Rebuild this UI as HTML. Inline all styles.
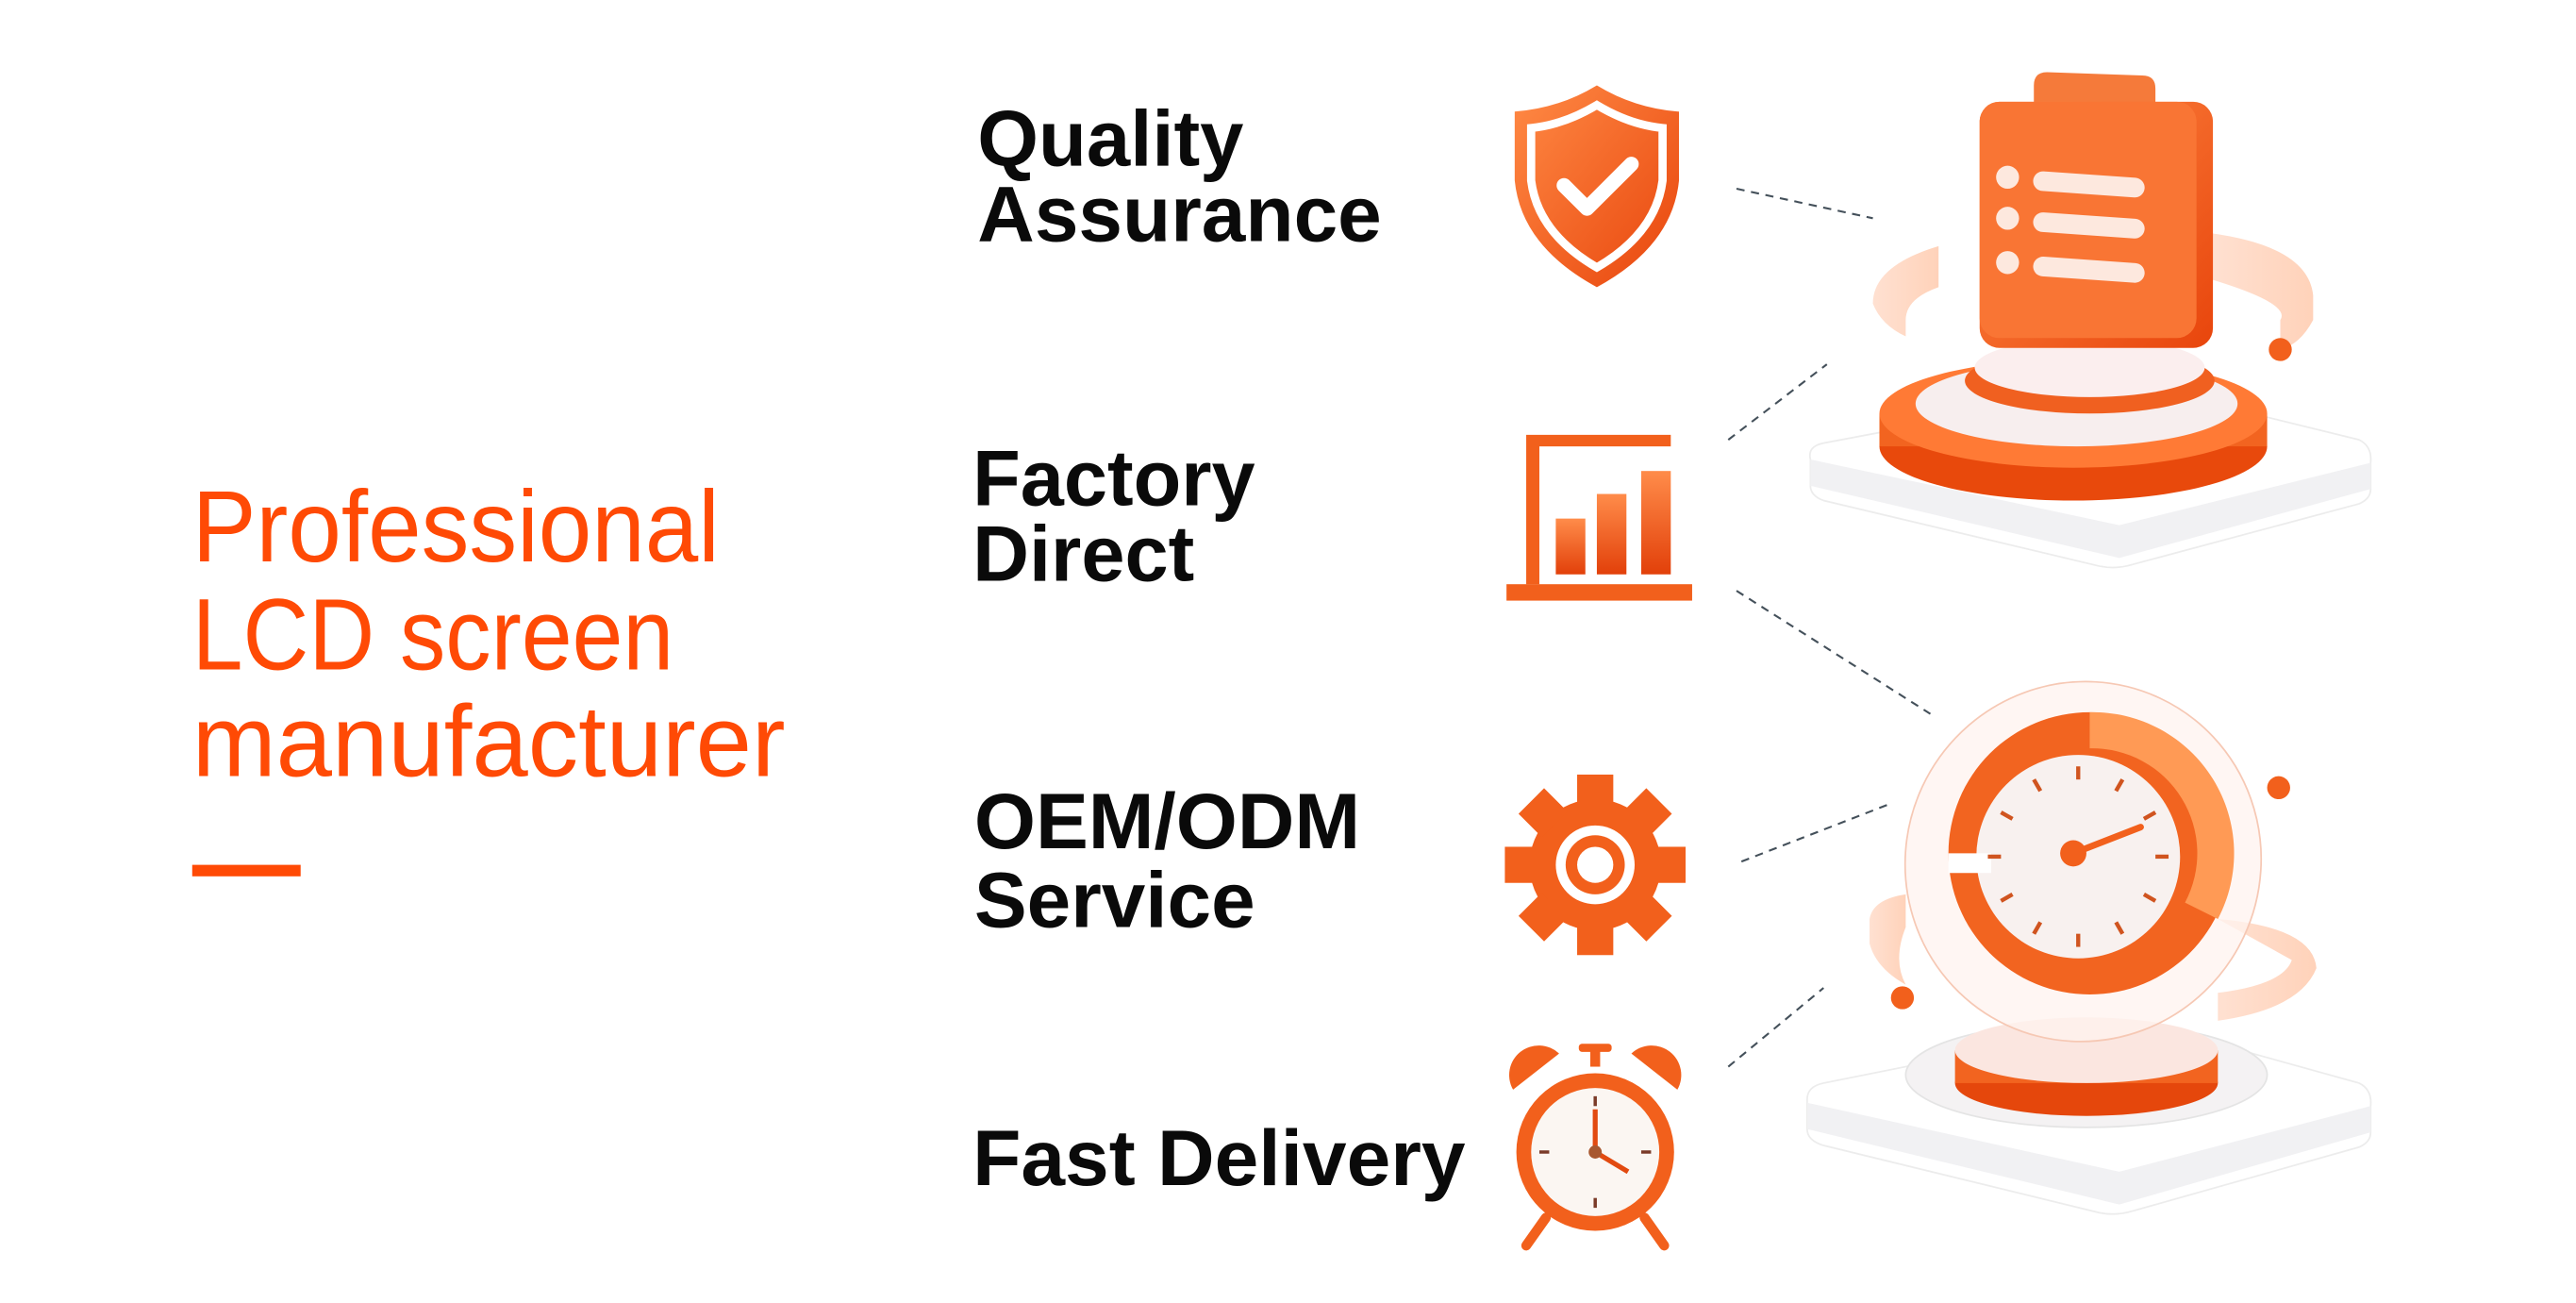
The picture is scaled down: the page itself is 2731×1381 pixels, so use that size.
<!DOCTYPE html>
<html><head><meta charset="utf-8"><style>
html,body{margin:0;padding:0;background:#fff;width:2731px;height:1381px;overflow:hidden}
svg{display:block}
</style></head><body>
<svg width="2731" height="1381" viewBox="0 0 1568 794" preserveAspectRatio="none" xmlns="http://www.w3.org/2000/svg">
<defs>
<linearGradient id="og" x1="0" y1="0" x2="1" y2="1"><stop offset="0" stop-color="#ff8a45"/><stop offset="1" stop-color="#e8450c"/></linearGradient>
<linearGradient id="og2" x1="0" y1="0" x2="0" y2="1"><stop offset="0" stop-color="#ff8c4a"/><stop offset="1" stop-color="#e2400a"/></linearGradient>
<linearGradient id="ring" x1="0" y1="0" x2="1" y2="0"><stop offset="0" stop-color="#ffd9c6" stop-opacity=".8"/><stop offset="1" stop-color="#ffc7a8" stop-opacity=".8"/></linearGradient>
</defs>
<rect width="1568" height="794" fill="#fff"/>
<!-- title -->
<g font-family="Liberation Sans, sans-serif" fill="#ff4a05">
<text x="117" y="342" font-size="62" textLength="321" lengthAdjust="spacingAndGlyphs">Professional</text>
<text x="117" y="408" font-size="62" textLength="293" lengthAdjust="spacingAndGlyphs">LCD screen</text>
<text x="117" y="473" font-size="62" textLength="361" lengthAdjust="spacingAndGlyphs">manufacturer</text>
</g>
<rect x="117" y="527" width="66" height="7" fill="#ff4a05"/>
<!-- labels -->
<g font-family="Liberation Sans, sans-serif" font-weight="bold" font-size="48" fill="#0a0a0a">
<text x="595" y="101" textLength="162" lengthAdjust="spacingAndGlyphs">Quality</text>
<text x="595" y="147" textLength="246" lengthAdjust="spacingAndGlyphs">Assurance</text>
<text x="592" y="308" textLength="172" lengthAdjust="spacingAndGlyphs">Factory</text>
<text x="592" y="354" textLength="135" lengthAdjust="spacingAndGlyphs">Direct</text>
<text x="593" y="517" textLength="235" lengthAdjust="spacingAndGlyphs">OEM/ODM</text>
<text x="593" y="565" textLength="171" lengthAdjust="spacingAndGlyphs">Service</text>
<text x="592" y="722" textLength="300" lengthAdjust="spacingAndGlyphs">Fast Delivery</text>
</g>
<!-- dashed connectors -->
<g stroke="#44505a" stroke-width="1.2" stroke-dasharray="5,4" fill="none">
<line x1="1057" y1="115" x2="1140" y2="133"/>
<line x1="1052" y1="268" x2="1112" y2="222"/>
<line x1="1057" y1="360" x2="1175" y2="435"/>
<line x1="1060" y1="525" x2="1150" y2="490"/>
<line x1="1052" y1="650" x2="1110" y2="602"/>
</g>
<!-- shield -->
<path d="M972,52 Q995,66 1022,68 L1022,110 Q1018,150 972,175 Q926,150 922,110 L922,68 Q949,66 972,52Z" fill="url(#og)"/>
<path d="M972,64 Q992,76 1012,78 L1012,110 Q1008,142 972,163 Q936,142 932,110 L932,78 Q952,76 972,64Z" fill="none" stroke="#fff" stroke-width="5"/>
<path d="M952,113 L966,127 L993,100" fill="none" stroke="#fff" stroke-width="9" stroke-linecap="round" stroke-linejoin="round"/>
<!-- chart -->
<path d="M929,265 L1017,265 L1017,272 L937,272 L937,356 L929,356Z" fill="#f2601c"/>
<rect x="917" y="356" width="113" height="10" fill="#f2601c"/>
<rect x="947" y="316" width="18" height="34" fill="url(#og2)"/>
<rect x="972" y="301" width="18" height="49" fill="url(#og2)"/>
<rect x="999" y="287" width="18" height="63" fill="url(#og2)"/>
<!-- gear -->
<g transform="translate(971,527)" fill="#f2601c">
<circle r="40"/>
<g><rect x="-11" y="-55" width="22" height="20"/><rect x="-11" y="35" width="22" height="20"/><rect x="-55" y="-11" width="20" height="22"/><rect x="35" y="-11" width="20" height="22"/>
<rect x="-11" y="-55" width="22" height="20" transform="rotate(45)"/><rect x="-11" y="-55" width="22" height="20" transform="rotate(135)"/><rect x="-11" y="-55" width="22" height="20" transform="rotate(225)"/><rect x="-11" y="-55" width="22" height="20" transform="rotate(315)"/></g>
<circle r="24" fill="#fff"/><circle r="18"/><circle r="11" fill="#fff"/>
</g>
<!-- alarm clock -->
<g transform="translate(971,702)">
<path d="M-50,-38 A18,18 0 0 1 -22,-60 Z" fill="#f2601c"/>
<path d="M50,-38 A18,18 0 0 0 22,-60 Z" fill="#f2601c"/>
<rect x="-3" y="-62" width="6" height="10" fill="#f2601c"/><rect x="-10" y="-66" width="20" height="5" rx="2" fill="#f2601c"/>
<line x1="-30" y1="40" x2="-42" y2="57" stroke="#f2601c" stroke-width="6" stroke-linecap="round"/>
<line x1="30" y1="40" x2="42" y2="57" stroke="#f2601c" stroke-width="6" stroke-linecap="round"/>
<circle r="48" fill="#f2601c"/><circle r="39" fill="#fbf6f2"/>
<g stroke="#7a3a28" stroke-width="2"><line y1="-34" y2="-28"/><line y1="34" y2="28"/><line x1="-34" x2="-28"/><line x1="34" x2="28"/></g>
<line x1="0" y1="0" x2="0" y2="-26" stroke="#e24a10" stroke-width="3"/>
<line x1="0" y1="0" x2="20" y2="12" stroke="#e24a10" stroke-width="3"/>
<circle r="4" fill="#a85830"/>
</g>
<!-- illustration 1 -->
<path d="M1102,280 Q1100,272 1110,270 L1290,236 Q1300,234 1310,237 L1436,268 Q1444,272 1443,282 L1443,298 Q1443,304 1436,307 L1298,344 Q1288,347 1278,345 L1110,305 Q1102,302 1102,296Z" fill="#fff" stroke="#ececec"/>
<path d="M1102,280 L1290,320 L1443,282 L1443,298 L1290,340 L1102,296Z" fill="#f1f1f3"/>
<ellipse cx="1262" cy="272" rx="118" ry="33" fill="#e8490c"/>
<rect x="1144" y="252" width="236" height="20" fill="#f26420"/>
<ellipse cx="1262" cy="252" rx="118" ry="33" fill="#ff7a35"/>
<ellipse cx="1264" cy="246" rx="98" ry="26" fill="#f7eeee"/>
<ellipse cx="1272" cy="232" rx="76" ry="20" fill="#f06020"/>
<ellipse cx="1272" cy="224" rx="70" ry="18" fill="#fbeeee"/>
<path d="M1140,185 Q1140,162 1180,150 L1180,175 Q1160,182 1160,195 L1160,205 Q1145,198 1140,185Z" fill="url(#ring)"/>
<path d="M1345,142 Q1405,150 1408,180 L1408,195 Q1400,210 1388,213 L1388,195 Q1395,185 1345,170Z" fill="url(#ring)"/>
<circle cx="1388" cy="213" r="7" fill="#f2601c"/>
<path d="M1238,52 Q1238,44 1246,44 L1304,46 Q1312,46 1312,54 L1312,72 L1238,72Z" fill="#f57a3a"/>
<rect x="1205" y="62" width="142" height="150" rx="12" fill="url(#og)"/>
<rect x="1205" y="62" width="132" height="144" rx="12" fill="#f97534"/>
<g fill="#fde8de">
<circle cx="1222" cy="108" r="7"/><circle cx="1222" cy="133" r="7"/><circle cx="1222" cy="160" r="7"/>
<rect x="1238" y="104" width="68" height="12" rx="6" transform="rotate(4 1238 104)"/>
<rect x="1238" y="129" width="68" height="12" rx="6" transform="rotate(4 1238 129)"/>
<rect x="1238" y="156" width="68" height="12" rx="6" transform="rotate(4 1238 156)"/>
</g>
<!-- illustration 2 -->
<path d="M1100,670 Q1100,662 1110,660 L1290,624 Q1300,622 1310,625 L1436,660 Q1444,664 1443,674 L1443,690 Q1443,696 1436,699 L1298,738 Q1288,741 1278,739 L1110,698 Q1100,695 1100,688Z" fill="#fff" stroke="#ececec"/>
<path d="M1100,672 L1290,714 L1443,674 L1443,690 L1290,734 L1100,688Z" fill="#f1f1f3"/>
<ellipse cx="1270" cy="655" rx="110" ry="32" fill="#f4f2f3" stroke="#e4e4e4"/>
<ellipse cx="1270" cy="660" rx="80" ry="20" fill="#e5470c"/>
<rect x="1190" y="640" width="160" height="20" fill="#f26420"/>
<ellipse cx="1270" cy="640" rx="80" ry="20" fill="#fbe6e0"/>
<path d="M1138,560 Q1140,548 1160,545 L1160,565 Q1152,585 1160,600 Q1142,590 1138,575Z" fill="url(#ring)"/>
<path d="M1350,560 Q1408,565 1410,590 Q1400,615 1350,622 L1350,605 Q1390,600 1395,585 Z" fill="url(#ring)"/>
<ellipse cx="1268" cy="525" rx="108" ry="110" transform="rotate(25 1268 525)" fill="#fff3ef" fill-opacity=".75" stroke="#f6c8b4"/>
<circle cx="1272" cy="520" r="86" fill="#f26420"/>
<path d="M1272,434 A86,86 0 0 1 1350,560 L1330,550 A64,64 0 0 0 1272,456Z" fill="#ff9a55"/>
<path d="M1190,470 L1200,470 L1200,560 L1190,560Z" fill="#fff" fill-opacity="0"/>
<circle cx="1265" cy="522" r="62" fill="#f8f1ef"/>
<path d="M1186,520 L1212,520 L1212,532 L1186,532Z" fill="#fff"/>
<g stroke="#d0541f" stroke-width="2.5" transform="translate(1265,522)">
<line x1="0" y1="-55" x2="0" y2="-47"/><line x1="0" y1="55" x2="0" y2="47"/><line x1="-55" y1="0" x2="-47" y2="0"/><line x1="55" y1="0" x2="47" y2="0"/>
<line x1="27" y1="-47" x2="23" y2="-40"/><line x1="-27" y1="-47" x2="-23" y2="-40"/><line x1="27" y1="47" x2="23" y2="40"/><line x1="-27" y1="47" x2="-23" y2="40"/>
<line x1="47" y1="-27" x2="40" y2="-23"/><line x1="-47" y1="-27" x2="-40" y2="-23"/><line x1="47" y1="27" x2="40" y2="23"/><line x1="-47" y1="27" x2="-40" y2="23"/>
</g>
<line x1="1262" y1="520" x2="1303" y2="504" stroke="#f2601c" stroke-width="4" stroke-linecap="round"/>
<circle cx="1262" cy="520" r="8" fill="#f2601c"/>
<circle cx="1387" cy="480" r="7" fill="#f2601c"/>
<circle cx="1158" cy="608" r="7" fill="#f2601c"/>
</svg>
</body></html>
